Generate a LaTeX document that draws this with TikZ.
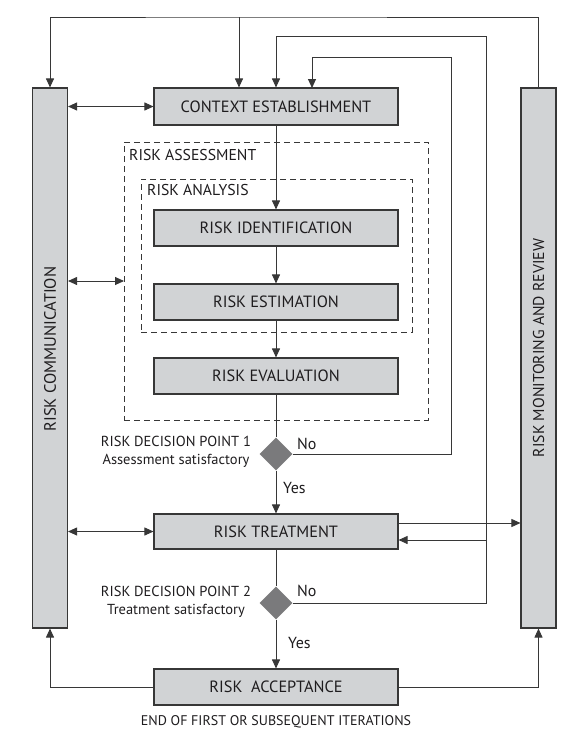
\documentclass[tikz,border=0pt]{standalone}
\usepackage{fontspec}
\setmainfont{PT Sans}
\usetikzlibrary{arrows.meta,shapes.geometric,calc}
\definecolor{boxfill}{RGB}{209,211,213}
\definecolor{linecol}{RGB}{55,55,55}
\definecolor{diafill}{RGB}{122,122,124}
\definecolor{textcol}{RGB}{30,28,30}
\tikzset{
  procbox/.style={draw=linecol, line width=1.1pt, fill=boxfill, minimum width=244pt, minimum height=36pt, inner sep=0pt, font=\fontsize{16.3}{18}\selectfont, text=textcol},
  sidebox/.style={draw=linecol, line width=1.1pt, fill=boxfill, minimum width=35pt, minimum height=540pt, inner sep=0pt},
  dashbox/.style={draw=linecol, line width=0.8pt, dash pattern=on 6pt off 4pt, minimum width=#1, inner sep=0pt},
  decis/.style={diamond, fill=diafill, minimum width=33pt, minimum height=33pt, inner sep=0pt},
  conn/.style={draw=linecol, line width=0.9pt},
  arr/.style={conn, -{Triangle[length=9pt,width=8pt]}},
  darr/.style={conn, {Triangle[length=9pt,width=8pt]}-{Triangle[length=9pt,width=8pt]}},
  lbl/.style={font=\fontsize{14.5}{18}\selectfont, text=textcol, inner sep=0pt},
  biglbl/.style={lbl, font=\fontsize{16}{18}\selectfont},
}
\begin{document}
\begin{tikzpicture}[x=1pt,y=-1pt]
\useasboundingbox (0,0) rectangle (581,742);

% dashed grouping boxes
\node[dashbox=304pt, minimum height=278pt] (assess) at (276,281) {};
\node[dashbox=271pt, minimum height=153pt] (analysis) at (276.5,255.5) {};
\node[biglbl, anchor=west, font=\fontsize{15.7}{18}\selectfont] (assessL) at (129,155) {RISK ASSESSMENT};
\node[biglbl, anchor=west, font=\fontsize{15.7}{18}\selectfont] (analysisL) at (147,190) {RISK ANALYSIS};

% side boxes
\node[sidebox] (comm) at (50,358) {};
\node[biglbl, rotate=90, font=\fontsize{16.5}{18}\selectfont] (commL) at (50,349) {RISK COMMUNICATION};
\node[sidebox] (mon) at (538.5,358) {};
\node[biglbl, rotate=90, font=\fontsize{15.7}{18}\selectfont] (monL) at (538.5,348) {RISK MONITORING AND REVIEW};

% process boxes
\node[procbox, minimum height=37pt] (ce) at (276,106.5) {CONTEXT ESTABLISHMENT};
\node[procbox] (ri) at (276,228) {RISK IDENTIFICATION};
\node[procbox] (re) at (276,302) {RISK ESTIMATION};
\node[procbox] (rev) at (276,376) {RISK EVALUATION};
\node[procbox, minimum height=35pt] (rt) at (276,531.5) {RISK TREATMENT};
\node[procbox] (ra) at (276,687) {RISK\ \ ACCEPTANCE};

% decisions
\node[decis] (d1) at (276,454) {};
\node[decis] (d2) at (276,603) {};

% labels
\node[lbl, align=center] (d1L) at (176,452) {RISK DECISION POINT 1\\Assessment satisfactory};
\node[lbl, align=center] (d2L) at (176,602) {RISK DECISION POINT 2\\Treatment satisfactory};
\node[biglbl, anchor=west] (no1) at (297,444) {No};
\node[biglbl, anchor=west] (yes1) at (283,488) {Yes};
\node[biglbl, anchor=west] (no2) at (297,591) {No};
\node[biglbl, anchor=west] (yes2) at (288,643) {Yes};
\node[lbl, font=\fontsize{14}{16}\selectfont] (endL) at (276,722) {END OF FIRST OR SUBSEQUENT ITERATIONS};

% coordinates for loops
\coordinate (top) at (239,17);
\coordinate (c2) at (486,36);
\coordinate (c3) at (486,540);
\coordinate (c1) at (451,57);
\coordinate (ce2) at (312,88);
\coordinate (a1) at (124,281);
\coordinate (rtm) at (398,523);

% main flow
\draw[arr] (ce) -- (ri);
\draw[arr] (ri) -- (re);
\draw[arr] (re) -- (rev);
\draw[conn] (rev) -- (d1);
\draw[arr] (d1) -- (rt);
\draw[conn] (rt) -- (d2);
\draw[arr] (d2) -- (ra);

% top loop from monitoring
\draw[arr] (mon.north) |- (top) -| (comm.north);
\draw[arr] (top) -- (top |- ce.north);

% decision loops
\draw[arr] (d1.east) -| (c1) -| (ce2);
\draw[arr] (d2.east) -| (c2) -| (ce.north);
\draw[arr] (c3) -- (c3 -| rt.east);

% communication links
\draw[darr] (ce.west) -- (ce.west -| comm.east);
\draw[darr] (a1) -- (a1 -| comm.east);
\draw[darr] (rt.west) -- (rt.west -| comm.east);

% monitoring links
\draw[arr, line width=0.6pt] (rtm) -- (rtm -| mon.west);
\draw[arr] (ra.west) -| (comm.south);
\draw[arr] (ra.east) -| (mon.south);
\end{tikzpicture}
\end{document}
